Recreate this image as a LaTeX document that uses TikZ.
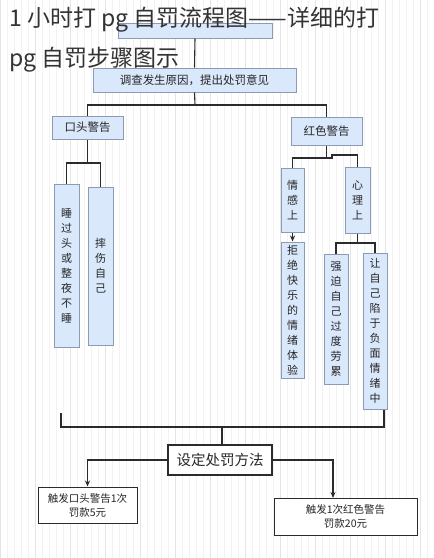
\documentclass[tikz,border=0pt]{standalone}
\usepackage{fontspec}
\newfontfamily\cjk{Noto Sans CJK SC}
\usetikzlibrary{arrows.meta}
\definecolor{boxfill}{HTML}{DAE8FC}
\definecolor{boxborder}{HTML}{8A9BB3}
\definecolor{linec}{HTML}{2B2B2B}
\definecolor{titlec}{HTML}{333333}
\begin{document}
\begin{tikzpicture}[x=1pt,y=-1pt,
  box/.style={draw=boxborder, line width=1pt, fill=boxfill, inner sep=0pt, align=center, text=black!85,
    font=\cjk\fontsize{11}{15}\selectfont},
  wbox/.style={draw=linec, line width=1pt, fill=white, inner sep=0pt, align=center, text=black!85,
    font=\cjk\fontsize{10.5}{14}\selectfont},
  conn/.style={draw=linec, line width=1.1pt},
  arr/.style={conn, -{Stealth[length=6pt,width=5pt]}}]
\useasboundingbox (0,0) rectangle (434,558);
\fill[white] (0,0) rectangle (434,558);
\draw[gray!10, line width=0.4pt, step=7] (0,0) grid (434,558);
\draw[gray!20, line width=0.5pt, step=35] (0,0) grid (434,558);
% boxes
\node[box, minimum width=154, minimum height=15] (top) at (195,30.5) {};
\node[box, minimum width=203, minimum height=24, font=\cjk\fontsize{11.5}{14}\selectfont] (cause) at (194.5,80) {调查发生原因，提出处罚意见};
\node[box, minimum width=71, minimum height=23, font=\cjk\fontsize{11.5}{14}\selectfont] (koutou) at (87.5,127.5) {口头警告};
\node[box, minimum width=71, minimum height=28, font=\cjk\fontsize{11.5}{14}\selectfont] (hongse) at (326.5,131) {红色警告};
\node[box, minimum width=25, minimum height=163] (sleep) at (66.5,265.5) {睡\\过\\头\\或\\整\\夜\\不\\睡};
\node[box, minimum width=25, minimum height=158] (hurt) at (100.5,266) {摔\\伤\\自\\己};
\node[box, minimum width=23, minimum height=64] (qinggan) at (292.5,200) {情\\感\\上};
\node[box, minimum width=25, minimum height=66] (xinli) at (357.5,200) {心\\理\\上};
\node[box, minimum width=23, minimum height=136] (jujue) at (292.5,310) {拒\\绝\\快\\乐\\的\\情\\绪\\体\\验};
\node[box, minimum width=24, minimum height=130] (qiangpo) at (336,319) {强\\迫\\自\\己\\过\\度\\劳\\累};
\node[box, minimum width=24, minimum height=156] (rang) at (375,331) {让\\自\\己\\陷\\于\\负\\面\\情\\绪\\中};
\node[wbox, line width=1.6pt, minimum width=104, minimum height=30, font=\cjk\fontsize{14.5}{16}\selectfont] (method) at (220,460) {设定处罚方法};
\node[wbox, minimum width=99, minimum height=36] (leftres) at (87.5,505) {触发口头警告1次\\罚款5元};
\node[wbox, minimum width=143, minimum height=37] (rightres) at (345.5,516.5) {触发1次红色警告\\罚款20元};
% connectors
\coordinate (j1) at (195,105);
\draw[conn] (top.south) -- (cause.north);
\draw[conn] (cause.south) -- (j1);
\draw[conn] (koutou.north) |- (j1) -| (hongse.north);
\coordinate (j2) at (87.5,163);
\draw[conn] (koutou.south) -- (j2);
\draw[conn] (sleep.north) |- (j2) -| (hurt.north);
\coordinate (j3) at (326.5,158);
\coordinate (j3a) at (332,158);
\coordinate (j3b) at (332,155);
\draw[conn] (hongse.south) -- (j3);
\draw[conn] (qinggan.north) |- (j3a) -- (j3b) -| (xinli.north);
\draw[arr] (qinggan.south) -- (jujue.north);
\coordinate (j5) at (357.5,243);
\draw[conn] (xinli.south) -- (j5);
\draw[conn] (qiangpo.north) |- (j5) -| (rang.north);
\coordinate (bl) at (61,413);
\coordinate (br) at (384,427);
\coordinate (j6) at (222,427);
\draw[conn] (bl) |- (br) -- (br |- rang.south);
\draw[conn] (j6) -- (j6 |- method.north);
\coordinate (ra) at (333,498);
\draw[arr] (method.west) -| (leftres.north);
\draw[arr] (method.east) -| (ra);
% title
\node[anchor=west, text=titlec, inner sep=0pt, font=\cjk\fontsize{23}{28}\selectfont] (t1) at (9,20) {1 小时打 pg 自罚流程图——详细的打};
\node[anchor=west, text=titlec, inner sep=0pt, font=\cjk\fontsize{23}{28}\selectfont] (t2) at (9,60) {pg 自罚步骤图示};
\end{tikzpicture}
\end{document}
